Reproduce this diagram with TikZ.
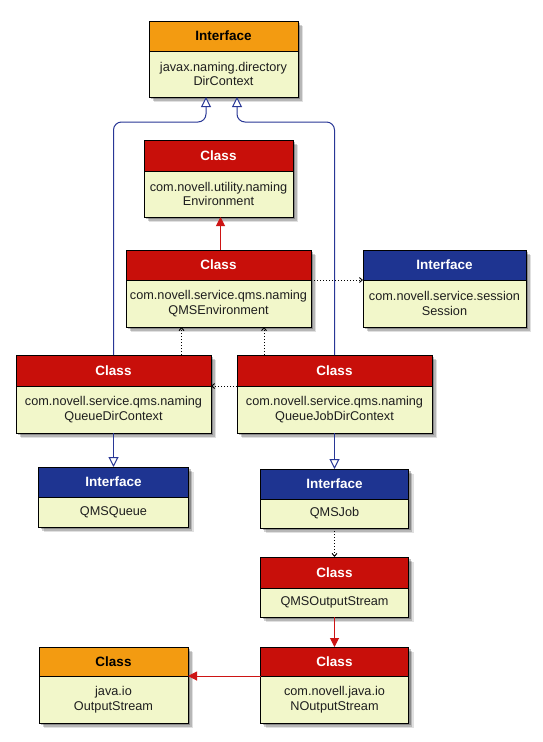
\documentclass[tikz,border=0pt]{standalone}
\usepackage{fontspec}
\setmainfont{Liberation Sans}
\usetikzlibrary{arrows.meta,shadows}
\definecolor{hdrorange}{RGB}{243,155,17}
\definecolor{hdrred}{RGB}{200,15,10}
\definecolor{hdrblue}{RGB}{30,52,145}
\definecolor{bodyfill}{RGB}{242,247,202}
\definecolor{textgray}{RGB}{30,30,30}
\definecolor{connblue}{RGB}{40,55,150}
\definecolor{connred}{RGB}{205,20,20}
\tikzset{
  box/.style={draw=black, line width=1pt, inner sep=0pt, outer sep=0pt, align=center},
  shadowed/.style={
    drop shadow={shadow xshift=5pt,shadow yshift=-5pt,opacity=.12,fill=black},
    drop shadow={shadow xshift=3.5pt,shadow yshift=-3.5pt,opacity=.18,fill=black},
    drop shadow={shadow xshift=2pt,shadow yshift=-2pt,opacity=.25,fill=black}},
  hdr/.style={box, shadowed, font=\fontsize{13.5}{15}\selectfont\bfseries, text=white},
  orangehdr/.style={fill=hdrorange, text=black},
  redhdr/.style={fill=hdrred},
  bluehdr/.style={fill=hdrblue},
  bodybox/.style={box, shadowed, fill=bodyfill, font=\fontsize{12.7}{14.5}\selectfont, text=textgray},
  gen/.style={draw=connblue, line width=1pt, rounded corners=8pt,
    -{Triangle[open,length=10pt,width=10pt,fill=white]}},
  assoc/.style={draw=connred, line width=1pt, -{Triangle[length=9pt,width=9pt]}},
  dep/.style={draw=black, line width=0.9pt, dash pattern=on 1pt off 2pt,
    -{Straight Barb[length=3pt,width=5pt]}},
}
% name, cx, width, top, header bottom, bottom, header style, title, body
\newcommand\umlbox[9]{%
  \node[hdr,#7,minimum width=#3pt,minimum height={(#5-#4)*1pt}] (#1-h) at (#2,{(#4+#5)/2}) {#8};
  \node[bodybox,minimum width=#3pt,minimum height={(#6-#5)*1pt}] (#1-b) at (#2,{(#5+#6)/2}) {#9};
}
\begin{document}
\begin{tikzpicture}[x=1pt,y=-1pt]
  \fill[white] (0,0) rectangle (543,742);
  \useasboundingbox (0,0) rectangle (543,742);

  \umlbox{dir}{223.5}{149}{21}{51}{97}{orangehdr}{Interface}{javax.naming.directory\\DirContext}
  \umlbox{env}{218.5}{149}{140}{171}{217}{redhdr}{Class}{com.novell.utility.naming\\Environment}
  \umlbox{qmse}{218.5}{185}{250}{280}{327}{redhdr}{Class}{com.novell.service.qms.naming\\QMSEnvironment}
  \umlbox{ses}{444.5}{163}{250}{280}{327}{bluehdr}{Interface}{com.novell.service.session\\Session}
  \umlbox{qdc}{113.5}{195}{355}{386}{433}{redhdr}{Class}{com.novell.service.qms.naming\\QueueDirContext}
  \umlbox{qj}{334.5}{195}{355}{386}{433}{redhdr}{Class}{com.novell.service.qms.naming\\QueueJobDirContext}
  \umlbox{qq}{113.5}{150}{467}{497}{527}{bluehdr}{Interface}{QMSQueue}
  \umlbox{job}{334.5}{148}{469}{499}{528}{bluehdr}{Interface}{QMSJob}
  \umlbox{qos}{334.5}{148}{557}{588}{617}{redhdr}{Class}{QMSOutputStream}
  \umlbox{nos}{334.5}{148}{647}{676}{723}{redhdr}{Class}{com.novell.java.io\\NOutputStream}
  \umlbox{os}{113.5}{149}{647}{676}{723}{orangehdr}{Class}{java.io\\OutputStream}

  % generalization (blue)
  \coordinate (bendy) at (0,122);
  \coordinate (dirL) at ([xshift=-17.5pt]dir-b.south);
  \coordinate (dirR) at ([xshift=13.5pt]dir-b.south);
  \draw[gen] (qdc-h.north) -- (qdc-h.north |- bendy) -- (dirL |- bendy) -- (dirL);
  \draw[gen] (qj-h.north) -- (qj-h.north |- bendy) -- (dirR |- bendy) -- (dirR);
  \draw[gen] (qdc-b.south) -- (qq-h.north);
  \draw[gen] (qj-b.south) -- (job-h.north);

  % associations (red)
  \coordinate (qmseT) at ([xshift=2pt]qmse-h.north);
  \draw[assoc] (qmseT) -- (qmseT |- env-b.south);
  \draw[assoc] (qos-b.south) -- (nos-h.north);
  \draw[assoc] (nos-h.south west) -- (os-h.south east);

  % dependencies (dotted)
  \coordinate (qdcT) at ([xshift=68pt]qdc-h.north);
  \coordinate (qjT) at ([xshift=-70.5pt]qj-h.north);
  \draw[dep] (qdcT) -- (qdcT |- qmse-b.south);
  \draw[dep] (qjT) -- (qjT |- qmse-b.south);
  \draw[dep] (qmse-h.south east) -- (ses-h.south west);
  \draw[dep] (qj-h.south west) -- (qdc-h.south east);
  \draw[dep] (job-b.south) -- (qos-h.north);
\end{tikzpicture}
\end{document}
